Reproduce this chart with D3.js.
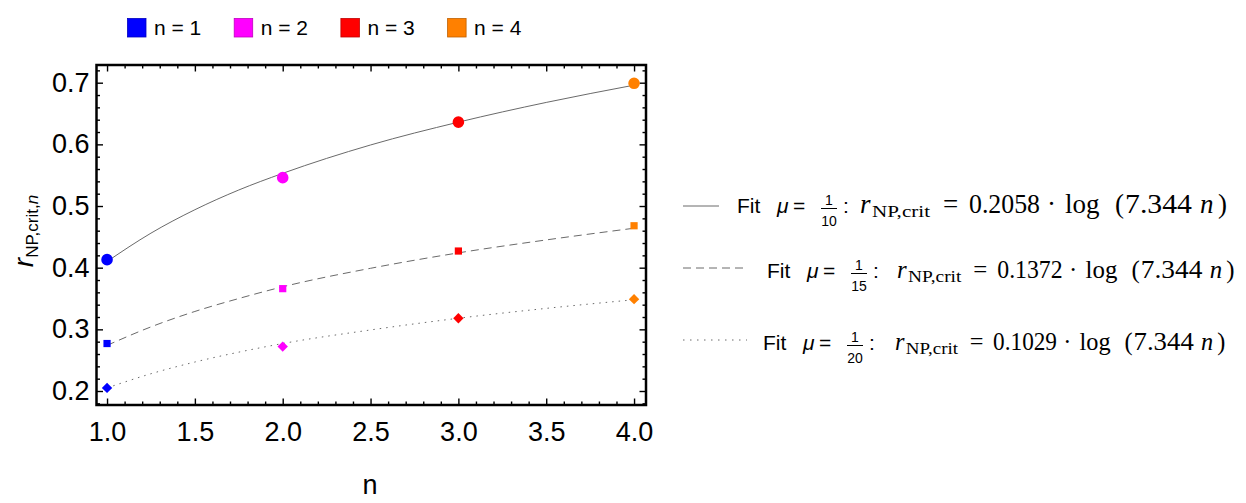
<!DOCTYPE html>
<html lang="en">
<head>
  <meta charset="UTF-8">
  <script src="https://d3js.org/d3.v7.min.js"></script>
  <title></title>
  <style>
    body { margin: 0; background: #fff; }
    text { font-family: 'Liberation Sans', Arial, sans-serif; fill: #000; }
    .serif { font-family: 'Liberation Serif', 'Times New Roman', serif; }
  </style>
</head>
<body>
  <script>
    // data
    var nValues = [1, 2, 3, 4];
    var pointColors = ['#0000ff', '#ff00ff', '#ff0000', '#ff8000'];
    var legendLabels = ['n = 1', 'n = 2', 'n = 3', 'n = 4'];
    var mu10 = [0.413, 0.546, 0.636, 0.699];
    var mu15 = [0.277, 0.366, 0.427, 0.468];
    var mu20 = [0.205, 0.272, 0.318, 0.349];
    // fit curves
    var fitN = [1, 1.25, 1.5, 1.75, 2, 2.5, 3, 3.5, 4];
    var fit10 = [0.410, 0.456, 0.494, 0.526, 0.553, 0.599, 0.636, 0.668, 0.696];
    var fit15 = [0.274, 0.304, 0.329, 0.350, 0.369, 0.399, 0.424, 0.445, 0.464];
    var fit20 = [0.205, 0.228, 0.247, 0.263, 0.277, 0.299, 0.318, 0.334, 0.348];
    var xTicks = [1, 1.5, 2, 2.5, 3, 3.5, 4];
    var yTicks = [0.2, 0.3, 0.4, 0.5, 0.6, 0.7];
    var muDenoms = ['10', '15', '20'];
    var fitCoefs = ['0.2058', '0.1372', '0.1029'];

    var svg = d3.select('body')
      .append('svg')
      .attr('width', 1246)
      .attr('height', 503);

    var pL = 96.5, pR = 646, pT = 65, pB = 405;

    var x = d3.scaleLinear().domain([0.94, 4.068]).range([pL, pR]);
    var y = d3.scaleLinear().domain([0.1773, 0.7287]).range([pB, pT]);

    var xMinor = d3.range(10, 41).map(function(v) { return v / 10; })
      .filter(function(v) { return xTicks.indexOf(v) === -1; });
    var yMinor = d3.range(9, 37).map(function(v) { return Math.round(v * 2) / 100; })
      .filter(function(v) { return yTicks.indexOf(v) === -1; });

    function styleAxis(g) {
      g.select('.domain').remove();
      g.selectAll('line').attr('stroke', '#000').attr('stroke-width', 1.4);
      g.selectAll('text')
        .style('font-family', "'Liberation Sans', Arial, sans-serif")
        .style('font-size', '27px');
    }

    // major + minor ticks on all four sides, pointing inward
    var axes = [
      {mk: d3.axisBottom, sc: x, t: 'translate(0,' + pB + ')', maj: xTicks, min: xMinor, lab: true, pad: 17},
      {mk: d3.axisTop, sc: x, t: 'translate(0,' + pT + ')', maj: xTicks, min: xMinor, lab: false, pad: 0},
      {mk: d3.axisLeft, sc: y, t: 'translate(' + pL + ',0)', maj: yTicks, min: yMinor, lab: true, pad: 7},
      {mk: d3.axisRight, sc: y, t: 'translate(' + pR + ',0)', maj: yTicks, min: yMinor, lab: false, pad: 0}
    ];
    axes.forEach(function(a) {
      svg.append('g')
        .attr('transform', a.t)
        .call(a.mk(a.sc).tickValues(a.min).tickSize(-3.5).tickFormat(''))
        .call(styleAxis);
      svg.append('g')
        .attr('transform', a.t)
        .call(a.mk(a.sc).tickValues(a.maj).tickSize(-6.5).tickPadding(a.pad)
          .tickFormat(a.lab ? d3.format('.1f') : ''))
        .call(styleAxis);
    });

    // frame
    svg.append('rect')
      .attr('x', pL).attr('y', pT)
      .attr('width', pR - pL).attr('height', pB - pT)
      .attr('fill', 'none').attr('stroke', '#000').attr('stroke-width', 2.5);

    // fit curves
    var line = d3.line()
      .x(function(d) { return x(d[0]); })
      .y(function(d) { return y(d[1]); })
      .curve(d3.curveMonotoneX);
    var curveDash = ['none', '8,5', '1.5,5'];
    [fit10, fit15, fit20].forEach(function(vals, k) {
      svg.append('path')
        .datum(fitN.map(function(n, i) { return [n, vals[i]]; }))
        .attr('d', line)
        .attr('fill', 'none')
        .attr('stroke', '#6a6a6a')
        .attr('stroke-width', 1)
        .attr('stroke-dasharray', curveDash[k]);
    });

    // points
    var circle = d3.symbol().type(d3.symbolCircle).size(Math.PI * 5.8 * 5.8);
    var square = d3.symbol().type(d3.symbolSquare).size(52);
    var diamond = d3.symbol().type(d3.symbolSquare).size(54);
    [[mu10, circle, 0], [mu15, square, 0], [mu20, diamond, 45]].forEach(function(s) {
      svg.append('g').selectAll('path')
        .data(s[0])
        .enter().append('path')
          .attr('d', s[1])
          .attr('transform', function(d, i) {
            return 'translate(' + x(nValues[i]) + ',' + y(d) + ') rotate(' + s[2] + ')';
          })
          .attr('fill', function(d, i) { return pointColors[i]; });
    });

    // axis titles
    var yl = svg.append('text')
      .attr('transform', 'translate(33,231) rotate(-90)')
      .attr('text-anchor', 'middle');
    yl.append('tspan').attr('font-style', 'italic').attr('font-size', 28).text('r');
    yl.append('tspan').attr('font-size', 17).attr('dy', 5).text('NP,crit,');
    yl.append('tspan').attr('font-size', 17).attr('font-style', 'italic').text('n');

    svg.append('text')
      .attr('x', 370).attr('y', 494)
      .attr('text-anchor', 'middle')
      .attr('font-size', 27)
      .text('n');

    // top legend
    var lg = svg.append('g').selectAll('g')
      .data(legendLabels)
      .enter().append('g')
      .attr('transform', function(d, i) { return 'translate(' + (127.5 + i * 106.7) + ',18.5)'; });
    lg.append('rect')
      .attr('width', 18.5).attr('height', 18.5)
      .attr('fill', function(d, i) { return pointColors[i]; })
      .attr('stroke', function(d, i) { return d3.color(pointColors[i]).darker(0.8); })
      .attr('stroke-width', 0.8);
    lg.append('text')
      .attr('x', 26.5).attr('y', 16.5)
      .attr('font-size', 21)
      .text(function(d) { return d; });

    // fit legend on the right
    var rows = [
      {lineY: 206, base: 213, lineEnd: 719, fitX: 737, rX: 860, s: 1.0},
      {lineY: 268, base: 278, lineEnd: 747, fitX: 767, rX: 897, s: 0.92},
      {lineY: 340, base: 350, lineEnd: 747, fitX: 763, rX: 895, s: 0.90}
    ];
    var legDash = ['none', '8,5', '1.5,5.5'];
    rows.forEach(function(r, k) {
      var g = svg.append('g');
      g.append('line')
        .attr('x1', 683).attr('x2', r.lineEnd)
        .attr('y1', r.lineY).attr('y2', r.lineY)
        .attr('stroke', '#6a6a6a').attr('stroke-width', 1)
        .attr('stroke-dasharray', legDash[k]);
      g.append('text').attr('x', r.fitX).attr('y', r.base).attr('font-size', 21).text('Fit');
      g.append('text').attr('x', r.fitX + 40).attr('y', r.base).attr('font-size', 21)
        .attr('font-style', 'italic').text('\u03bc');
      g.append('text').attr('x', r.fitX + 56).attr('y', r.base).attr('font-size', 21).text('=');
      var fc = r.fitX + 92;
      g.append('text').attr('x', fc).attr('y', r.base - 8.5).attr('font-size', 14)
        .attr('text-anchor', 'middle').text('1');
      g.append('line').attr('x1', fc - 8).attr('x2', fc + 8)
        .attr('y1', r.base - 4.5).attr('y2', r.base - 4.5)
        .attr('stroke', '#000').attr('stroke-width', 1);
      g.append('text').attr('x', fc).attr('y', r.base + 12.5).attr('font-size', 14)
        .attr('text-anchor', 'middle').text(muDenoms[k]);
      g.append('text').attr('x', r.fitX + 106).attr('y', r.base).attr('font-size', 21).text(':');

      var s = r.s, fs = 27 * s;
      // [offset, text, size, italic, baseline shift, width]
      var pieces = [
        [0, 'r', fs, true, 0, 0],
        [12, 'NP,crit', 17.5 * s, false, 4 * s, 58],
        [83, '=', fs, false, 0, 0],
        [109, fitCoefs[k], fs, false, 0, 71],
        [187, '\u00b7', fs, false, 0, 0],
        [205, 'log', fs, false, 0, 0],
        [255, '(', fs, false, 0, 0],
        [265, '7.344', fs, false, 0, 67],
        [340, 'n', fs, true, 0, 0],
        [358, ')', fs, false, 0, 0]
      ];
      pieces.forEach(function(p) {
        var t = g.append('text')
          .attr('class', 'serif')
          .attr('x', r.rX + p[0] * s)
          .attr('y', r.base + p[4])
          .attr('font-size', p[2])
          .attr('font-style', p[3] ? 'italic' : 'normal')
          .text(p[1]);
        if (p[5]) t.attr('textLength', p[5] * s).attr('lengthAdjust', 'spacingAndGlyphs');
      });
    });
  </script>
</body>
</html>
